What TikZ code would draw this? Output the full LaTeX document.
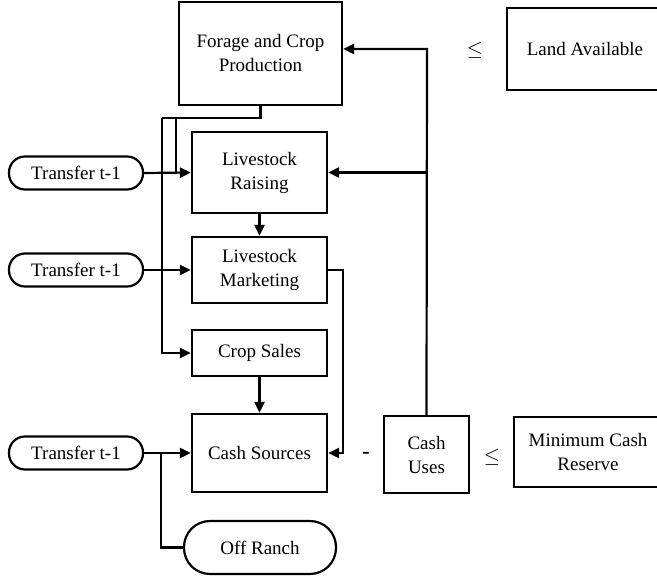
\documentclass[tikz,border=0pt]{standalone}
\usepackage{fontspec}
\setmainfont{Liberation Serif}
\usetikzlibrary{arrows.meta}
\begin{document}
\begin{tikzpicture}[x=1pt,y=-1pt,
  line width=2.2pt,
  every node/.style={font=\fontsize{19}{24}\selectfont, align=center, inner sep=0pt},
  box/.style={draw, rectangle},
  rel/.style={font=\fontsize{22}{24}\selectfont},
  pill/.style={draw, rectangle, rounded corners=16pt, minimum width=134pt, minimum height=33pt},
  arr/.style={-{Triangle[length=11pt,width=10pt]}}]
\useasboundingbox (0,0) rectangle (657,578);
\clip (0,0) rectangle (657,578);
\node[box, minimum width=163pt, minimum height=103pt] (forage) at (260.5,53.5) {Forage and Crop\\Production};
\node[box, minimum width=156pt, minimum height=82pt] (land) at (585,49) {Land Available};
\node[box, minimum width=135pt, minimum height=81pt] (raise) at (259.5,172.5) {Livestock\\Raising};
\node[box, minimum width=135pt, minimum height=66pt] (market) at (259.5,270) {Livestock\\Marketing};
\node[box, minimum width=135pt, minimum height=46pt] (crop) at (259.5,353) {Crop Sales};
\node[box, minimum width=135pt, minimum height=78pt] (csrc) at (259.5,453) {Cash Sources};
\node[box, minimum width=85pt, minimum height=77pt] (cuse) at (426.5,454.5) {Cash\\Uses};
\node[box, minimum width=148pt, minimum height=70pt] (mres) at (588,452) {Minimum Cash\\Reserve};
\node[pill] (t1) at (76,173) {Transfer t-1};
\node[pill] (t2) at (76,270) {Transfer t-1};
\node[pill] (t3) at (76,453) {Transfer t-1};
\node[draw, rectangle, rounded corners=26pt, minimum width=152pt, minimum height=53pt] (off) at (260,547.5) {Off Ranch};
\node[rel] (le1) at (475,50) {$\le$};
\node[rel] (le2) at (492,457) {$\le$};
\node[font=\fontsize{22}{24}\selectfont\bfseries] (minus) at (366,455) {-};
% forage outputs
\coordinate (fa) at (260.5,118);
\coordinate (fb) at (162,118);
\coordinate (fc) at (176,118);
\coordinate (fd) at (176,173);
\draw (forage.south) -- (fa) -- (fb);
\draw[arr] (fb) |- (crop.west);
\draw (fc) -- (fd);
% transfers
\draw[arr] (t1.east) -- (raise.west);
\draw[arr] (t2.east) -- (market.west);
\draw[arr] (t3.east) -- (csrc.west);
\coordinate (oj) at (161,453);
\draw (oj) |- (off.west);
% vertical flow
\draw[arr] (raise.south) -- (market.north);
\draw[arr] (crop.south) -- (csrc.north);
\coordinate (mk) at (343,270);
\draw[arr] (market.east) -- (mk) |- (csrc.east);
% cash uses
\coordinate (cu) at (427,49);
\coordinate (cr) at (427,172.5);
\draw[arr] (cuse.north) -- (cu) -- (forage.east |- cu);
\draw[arr] (cr) -- (raise.east);
\end{tikzpicture}
\end{document}
